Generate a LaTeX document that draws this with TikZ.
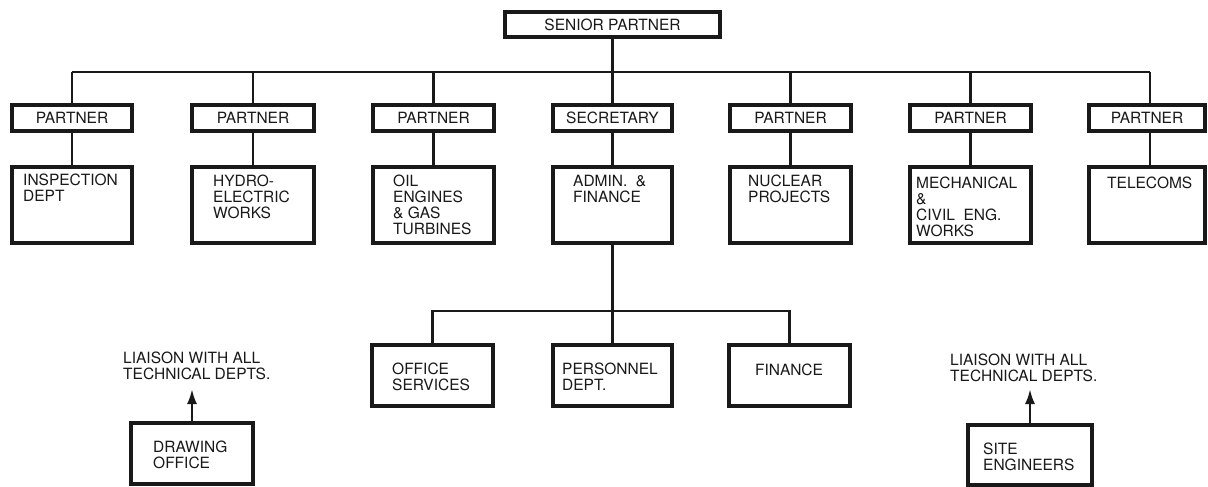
\documentclass[tikz,border=0pt]{standalone}
\usepackage{fontspec}
\setmainfont{TeX Gyre Heros}
\usetikzlibrary{arrows.meta}
\begin{document}
\begin{tikzpicture}[x=1pt,y=-1pt,
  box/.style={draw=black!90,line width=3.2pt,rectangle,inner sep=0pt},
  conn/.style={draw=black!90,line width=2.5pt},
  lbl/.style={inner sep=0pt,text=black!90,font=\fontsize{15.5}{16}\selectfont},
  txt/.style={lbl,anchor=base west,align=left},
  arr/.style={conn,-{Latex[length=15pt,width=10pt]}}]
\useasboundingbox[fill=white] (0,0) rectangle (1208,487);
% senior partner
\node[box,minimum width=215pt,minimum height=25pt,lbl] (sp) at (612.5,24.5) {SENIOR PARTNER};
% partner row
\foreach \n/\cx/\w/\t in {p1/72/120/PARTNER,p2/253/122/PARTNER,p3/433.5/121/PARTNER,sec/612.5/119/SECRETARY,p5/790.5/121/PARTNER,p6/970.5/121/PARTNER,p7/1147/116/PARTNER}
  \node[box,minimum width=\w pt,minimum height=26pt,lbl] (\n) at (\cx,118) {\t};
% department row
\foreach \n/\cx/\w in {d1/72/120,d2/253/122,d3/433.5/121,adm/612.5/119,d5/790.5/121,d6/970.5/121,d7/1147/116}
  \node[box,minimum width=\w pt,minimum height=76pt] (\n) at (\cx,205) {};
% sub row
\node[box,minimum width=121pt,minimum height=61pt] (off) at (432.5,375.5) {};
\node[box,minimum width=119pt,minimum height=61pt] (pers) at (612.5,375.5) {};
\node[box,minimum width=121pt,minimum height=61pt] (fin) at (789.5,375.5) {};
% drawing office / site engineers
\node[box,minimum width=122pt,minimum height=61pt] (dro) at (192,453.5) {};
\node[box,minimum width=124pt,minimum height=60pt] (site) at (1030,455) {};
% texts (base anchor = baseline of last line)
\node[txt] (t1) at (23,201) {INSPECTION\\DEPT};
\node[txt] (t2) at (213,218) {HYDRO-\\ELECTRIC\\WORKS};
\node[txt] (t3) at (393,234) {OIL\\ENGINES\\\& GAS\\TURBINES};
\node[txt] (t4) at (573,202) {ADMIN.\ \ \&\\FINANCE};
\node[txt] (t5) at (748,202) {NUCLEAR\\PROJECTS};
\node[txt] (t6) at (916,236) {MECHANICAL\\\&\\CIVIL\ \ ENG.\\WORKS};
\node[txt] (t7) at (1107,188) {TELECOMS};
\node[txt] (t8) at (392,390) {OFFICE\\SERVICES};
\node[txt] (t9) at (562,390) {PERSONNEL\\DEPT.};
\node[txt] (t10) at (755,375) {FINANCE};
\node[txt] (t11) at (153,468) {DRAWING\\OFFICE};
\node[txt] (t12) at (983,470) {SITE\\ENGINEERS};
\node[txt] (l1) at (123,379) {LIAISON WITH ALL\\TECHNICAL DEPTS.};
\node[txt] (l2) at (950,381) {LIAISON WITH ALL\\TECHNICAL DEPTS.};
% connectors
\coordinate (b1) at (72,72);
\coordinate (b7) at (1150,72);
\coordinate (sb) at (612,311);
\draw[conn] (sp.south) -- (sec.north);
\draw[conn] (b1) -- (b7);
\draw[conn] (b1) -- (p1.north);
\foreach \n in {p2,p3,p5,p6} \draw[conn] (\n.north |- b1) -- (\n.north);
\draw[conn] (b7) -- (b7 |- p7.north);
\foreach \a/\b in {p1/d1,p2/d2,p3/d3,sec/adm,p5/d5,p6/d6} \draw[conn] (\a.south) -- (\b.north);
\draw[conn] (b7 |- p7.south) -- (b7 |- d7.north);
\draw[conn] (adm.south) -- (pers.north);
\draw[conn] (off.north) |- (sb) -| (fin.north);
\draw[arr] (dro.north) -- (dro.north |- 0,389);
\draw[arr] (site.north) -- (site.north |- 0,389);
\end{tikzpicture}
\end{document}
